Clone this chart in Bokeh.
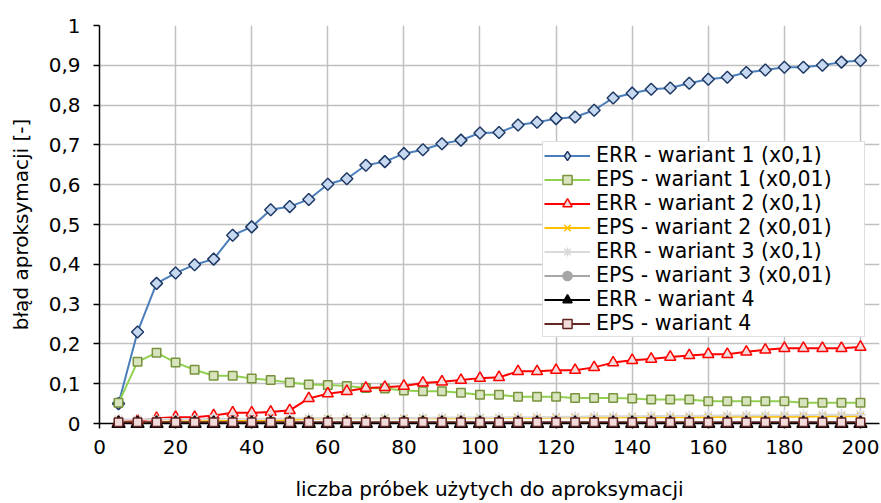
import math
from bokeh.plotting import figure
from bokeh.models import Range1d, FixedTicker, Legend, LegendItem, ColumnDataSource
from bokeh.embed import file_html
from bokeh.resources import INLINE

# ---- data ----
x_samples = [5, 10, 15, 20, 25, 30, 35, 40, 45, 50,
             55, 60, 65, 70, 75, 80, 85, 90, 95, 100,
             105, 110, 115, 120, 125, 130, 135, 140, 145, 150,
             155, 160, 165, 170, 175, 180, 185, 190, 195, 200]

err_w1 = [0.050, 0.230, 0.352, 0.378, 0.399, 0.413, 0.473, 0.494, 0.537, 0.545,
          0.563, 0.601, 0.615, 0.649, 0.658, 0.678, 0.688, 0.703, 0.712, 0.730,
          0.731, 0.750, 0.757, 0.766, 0.770, 0.787, 0.818, 0.830, 0.840, 0.843,
          0.855, 0.865, 0.870, 0.882, 0.888, 0.895, 0.895, 0.900, 0.908, 0.912]

eps_w1 = [0.052, 0.155, 0.178, 0.153, 0.135, 0.120, 0.120, 0.113, 0.109, 0.103,
          0.098, 0.097, 0.094, 0.089, 0.088, 0.083, 0.081, 0.081, 0.077, 0.072,
          0.072, 0.067, 0.067, 0.067, 0.064, 0.064, 0.064, 0.063, 0.060, 0.060,
          0.060, 0.056, 0.056, 0.056, 0.056, 0.056, 0.052, 0.052, 0.052, 0.052]

err_w2 = [0.004, 0.007, 0.013, 0.016, 0.016, 0.020, 0.027, 0.027, 0.029, 0.033,
          0.063, 0.075, 0.081, 0.089, 0.091, 0.094, 0.102, 0.105, 0.109, 0.114,
          0.116, 0.131, 0.131, 0.134, 0.134, 0.141, 0.153, 0.159, 0.162, 0.167,
          0.171, 0.174, 0.174, 0.180, 0.185, 0.189, 0.189, 0.189, 0.189, 0.192]

eps_w2 = [0.003, 0.003, 0.004, 0.005, 0.005, 0.006, 0.006, 0.007, 0.007, 0.009,
          0.012, 0.013, 0.013, 0.013, 0.013, 0.013, 0.013, 0.013, 0.013, 0.014,
          0.014, 0.014, 0.014, 0.015, 0.015, 0.015, 0.015, 0.016, 0.016, 0.016,
          0.016, 0.016, 0.017, 0.017, 0.017, 0.017, 0.017, 0.018, 0.018, 0.018]

err_w3 = [0.010, 0.010, 0.011, 0.011, 0.011, 0.012, 0.012, 0.012, 0.012, 0.013,
          0.013, 0.013, 0.014, 0.014, 0.014, 0.014, 0.014, 0.015, 0.015, 0.015,
          0.015, 0.016, 0.016, 0.017, 0.017, 0.018, 0.018, 0.018, 0.019, 0.019,
          0.019, 0.020, 0.020, 0.020, 0.021, 0.021, 0.021, 0.022, 0.022, 0.022]

eps_w3 = [0.002, 0.002, 0.002, 0.002, 0.002, 0.002, 0.002, 0.002, 0.002, 0.002,
          0.002, 0.002, 0.002, 0.002, 0.002, 0.002, 0.002, 0.002, 0.002, 0.002,
          0.002, 0.002, 0.002, 0.002, 0.002, 0.002, 0.002, 0.002, 0.002, 0.002,
          0.002, 0.002, 0.002, 0.002, 0.002, 0.002, 0.002, 0.002, 0.002, 0.002]

err_w4 = [0.000, 0.000, 0.000, 0.000, 0.000, 0.000, 0.000, 0.000, 0.000, 0.000,
          0.000, 0.000, 0.000, 0.000, 0.000, 0.000, 0.000, 0.000, 0.000, 0.000,
          0.000, 0.000, 0.000, 0.000, 0.000, 0.000, 0.000, 0.000, 0.000, 0.000,
          0.000, 0.000, 0.000, 0.000, 0.000, 0.000, 0.000, 0.000, 0.000, 0.000]

eps_w4 = [0.003, 0.003, 0.003, 0.003, 0.003, 0.003, 0.003, 0.003, 0.003, 0.003,
          0.003, 0.003, 0.003, 0.003, 0.003, 0.003, 0.003, 0.003, 0.003, 0.003,
          0.003, 0.003, 0.003, 0.003, 0.003, 0.003, 0.003, 0.003, 0.003, 0.003,
          0.003, 0.003, 0.003, 0.003, 0.003, 0.003, 0.003, 0.003, 0.003, 0.003]

series_labels = ["ERR - wariant 1 (x0,1)", "EPS - wariant 1 (x0,01)",
                 "ERR - wariant 2 (x0,1)", "EPS - wariant 2 (x0,01)",
                 "ERR - wariant 3 (x0,1)", "EPS - wariant 3 (x0,01)",
                 "ERR - wariant 4", "EPS - wariant 4"]
series_values = [err_w1, eps_w1, err_w2, eps_w2, err_w3, eps_w3, err_w4, eps_w4]

x_ticks = [0, 20, 40, 60, 80, 100, 120, 140, 160, 180, 200]
y_ticks = [0, 0.1, 0.2, 0.3, 0.4, 0.5, 0.6, 0.7, 0.8, 0.9, 1]
y_tick_labels = ["0", "0,1", "0,2", "0,3", "0,4", "0,5", "0,6", "0,7", "0,8", "0,9", "1"]

x_title = "liczba próbek użytych do aproksymacji"
y_title = "błąd aproksymacji [-]"

# ---- styles ----
FONT = "DejaVu Sans"
styles = [
    # line color, line width, marker, size, fill, marker line, angle, legend marker
    ("#4a7ebb", 2.0, "square", 8.5, "#c6d9f1", "#1f3864", math.pi / 4, "diamond"),
    ("#92d050", 2.0, "square", 8.5, "#d7e4bd", "#77933c", 0.0, None),
    ("#ff0000", 2.0, "triangle", 11, "#f2dcdb", "#ff0000", 0.0, None),
    ("#ffc000", 2.0, "x", 10, "#ffc000", "#ffc000", 0.0, None),
    ("#d9d9d9", 2.0, "asterisk", 11, "#d9d9d9", "#d9d9d9", 0.0, None),
    ("#a6a6a6", 2.0, "circle", 9, "#a6a6a6", "#a6a6a6", 0.0, None),
    ("#000000", 2.0, "triangle", 13, "#000000", "#000000", 0.0, None),
    ("#632523", 2.0, "square", 8.5, "#f2dcdb", "#632523", 0.0, None),
]

p = figure(width=881, height=503, output_backend="svg", toolbar_location=None,
           x_range=Range1d(0, 205), y_range=Range1d(0, 1),
           min_border_left=99, min_border_right=2, min_border_top=25,
           min_border_bottom=74)
p.outline_line_color = None
p.background_fill_color = "white"
p.border_fill_color = "white"

p.xgrid.grid_line_color = "#c0c0c0"
p.ygrid.grid_line_color = "#c0c0c0"
p.xgrid.grid_line_width = 1.5
p.ygrid.grid_line_width = 1.5

p.xaxis.ticker = FixedTicker(ticks=x_ticks)
p.yaxis.ticker = FixedTicker(ticks=y_ticks)
p.yaxis.major_label_overrides = {t: l for t, l in zip(y_ticks, y_tick_labels)}
p.xgrid.ticker = FixedTicker(ticks=x_ticks)
p.ygrid.ticker = FixedTicker(ticks=y_ticks)

for ax in (p.xaxis, p.yaxis):
    ax.axis_line_color = "black"
    ax.axis_line_width = 1.5
    ax.major_tick_line_color = "black"
    ax.major_tick_line_width = 1.5
    ax.major_tick_in = 0
    ax.minor_tick_in = 0
    ax.minor_tick_out = 0
    ax.major_label_text_font = FONT
    ax.major_label_text_font_size = "20px"
    ax.major_label_text_color = "black"
    ax.axis_label_text_font = FONT
    ax.axis_label_text_font_size = "20px"
    ax.axis_label_text_font_style = "normal"
    ax.axis_label_text_color = "black"

p.xaxis.major_tick_out = 5
p.xaxis.major_label_standoff = 11
p.xaxis.axis_label = x_title
p.xaxis.axis_label_standoff = 20
p.yaxis.major_tick_out = 6
p.yaxis.major_label_standoff = 13
p.yaxis.axis_label = y_title
p.yaxis.axis_label_standoff = 13

items = []
for label, vals, st in zip(series_labels, series_values, styles):
    lc, lw, mk, sz, fc, mlc, ang, leg_mk = st
    src = ColumnDataSource(data=dict(x=x_samples, y=vals))
    r_line = p.line("x", "y", source=src, line_color=lc, line_width=lw)
    if leg_mk is not None:
        # legend symbol; in the plot it sits fully hidden under the rotated squares
        r_leg = p.scatter("x", "y", source=src, marker=leg_mk, size=9,
                          fill_color=fc, line_color=mlc, line_width=1.5)
    r_mark = p.scatter("x", "y", source=src, marker=mk, size=sz, angle=ang,
                       fill_color=fc, line_color=mlc, line_width=1.5,
                       level="overlay")
    if leg_mk is not None:
        items.append(LegendItem(label=label, renderers=[r_line, r_leg]))
    else:
        items.append(LegendItem(label=label, renderers=[r_line, r_mark]))

legend = Legend(items=items, location=(443, 86), padding=1, spacing=0, margin=0,
                label_text_font=FONT, label_text_font_size="20.5px",
                label_text_color="black", glyph_width=46, glyph_height=23,
                label_height=23, label_width=267, label_standoff=6,
                border_line_color="#bfbfbf", border_line_width=1.5,
                background_fill_color="white", background_fill_alpha=1.0)
p.add_layout(legend)

open("out.html", "w").write(file_html(p, INLINE))
